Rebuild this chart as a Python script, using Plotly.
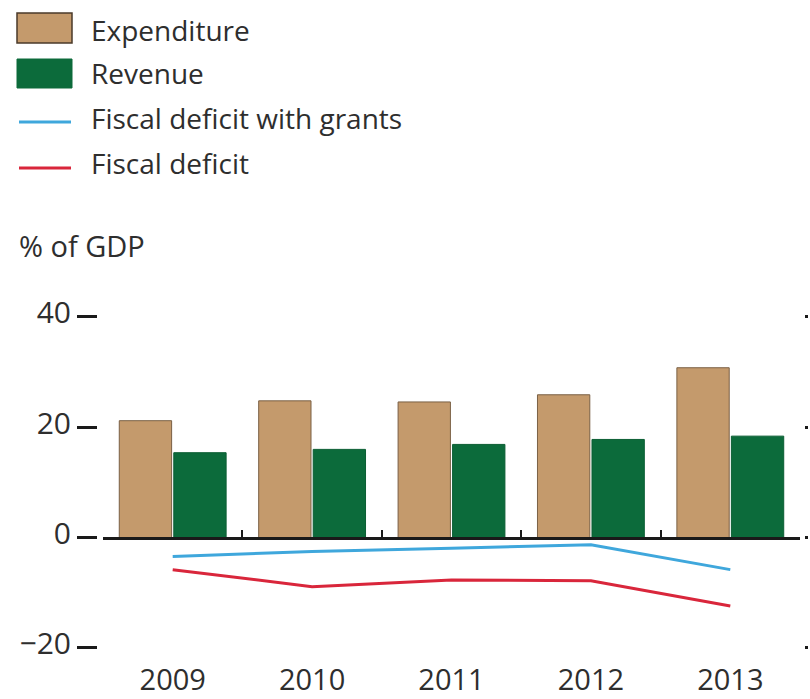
import plotly.graph_objects as go

years = ["2009", "2010", "2011", "2012", "2013"]
expenditure = [21.2, 24.8, 24.6, 25.9, 30.8]
revenue = [15.4, 16.0, 16.9, 17.8, 18.4]
deficit_grants = [-3.4, -2.5, -1.9, -1.3, -5.8]
deficit = [-5.8, -8.9, -7.7, -7.8, -12.4]
y_ticks = [-20, 0, 20, 40]
legend_labels = ["Expenditure", "Revenue", "Fiscal deficit with grants", "Fiscal deficit"]

W, H = 810, 699
ML, MR, MT, MB = 97, 6, 300, 39
PW = W - ML - MR
PH = H - MT - MB
YR = [-22.18, 43.08]

def px_x(p):
    return (p - ML) / PW

def px_y(p):
    return (H - MB - p) / PH

TAN = "#c49a6c"
GREEN = "#0c6b3b"
BLUE = "#3fa7dc"
RED = "#d9263b"
TXT = "#2e2e2e"
FONT = "Open Sans"

fig = go.Figure()
fig.add_trace(go.Bar(x=years, y=expenditure, name=legend_labels[0],
                     marker=dict(color=TAN, line=dict(color="#7a6045", width=1))))
fig.add_trace(go.Bar(x=years, y=revenue, name=legend_labels[1],
                     marker=dict(color=GREEN, line=dict(color="#0b5e33", width=1))))
fig.add_trace(go.Scatter(x=years, y=deficit_grants, name=legend_labels[2], mode="lines",
                         line=dict(color=BLUE, width=3), xaxis="x2", yaxis="y"))
fig.add_trace(go.Scatter(x=years, y=deficit, name=legend_labels[3], mode="lines",
                         line=dict(color=RED, width=3), xaxis="x2", yaxis="y2"))

dom = [px_x(103), px_x(800)]
y0pos = px_y(538)

fig.update_layout(
    width=W, height=H,
    margin=dict(l=ML, r=MR, t=MT, b=MB),
    paper_bgcolor="white", plot_bgcolor="white",
    showlegend=False,
    barmode="group", bargap=0.218, bargroupgap=0.04,
    font=dict(family=FONT, color=TXT, size=28),
    xaxis=dict(domain=dom, range=[-0.5, 4.5], type="category", categoryarray=years,
               showline=False, ticks="", showgrid=False, zeroline=False, automargin=False,
               tickfont=dict(size=29, color=TXT), ticklabelstandoff=0),
    xaxis2=dict(domain=dom, range=[-0.5, 4.5], type="category", categoryarray=years,
                overlaying="x", anchor="free", position=y0pos, automargin=False,
                showline=True, linecolor="#1a1a1a", linewidth=3,
                ticks="inside", tickson="boundaries", ticklen=7, tickwidth=2, tickcolor="#1a1a1a",
                showticklabels=False, showgrid=False, zeroline=False),
    yaxis=dict(range=YR, anchor="free", position=0, tickvals=y_ticks, automargin=False,
               ticks="outside", ticklen=20, tickwidth=3, tickcolor="#1a1a1a",
               showline=False, showgrid=False, zeroline=False,
               tickfont=dict(size=30, color=TXT), ticklabelshift=-4),
    yaxis2=dict(range=YR, overlaying="y", side="right", anchor="free", position=1.0,
                tickvals=y_ticks, ticks="outside", ticklen=3, tickwidth=3, tickcolor="#1a1a1a",
                automargin=False,
                showticklabels=False, showline=False, showgrid=False, zeroline=False),
)

# Legend drawn manually (large swatches)
shapes = [
    dict(type="rect", xref="paper", yref="paper", x0=px_x(17), x1=px_x(72), y0=px_y(43), y1=px_y(13),
         fillcolor=TAN, line=dict(color="#4a3a2a", width=1.5)),
    dict(type="rect", xref="paper", yref="paper", x0=px_x(17), x1=px_x(72), y0=px_y(88), y1=px_y(59),
         fillcolor=GREEN, line=dict(color=GREEN, width=1)),
    dict(type="line", xref="paper", yref="paper", x0=px_x(19), x1=px_x(71), y0=px_y(122), y1=px_y(122),
         line=dict(color=BLUE, width=3)),
    dict(type="line", xref="paper", yref="paper", x0=px_x(19), x1=px_x(71), y0=px_y(168), y1=px_y(168),
         line=dict(color=RED, width=3)),
]
fig.update_layout(shapes=shapes)

ann = []
for lbl, cy in zip(legend_labels, [30, 73, 118, 163]):
    ann.append(dict(text=lbl, xref="paper", yref="paper", x=px_x(89), y=px_y(cy),
                    xanchor="left", yanchor="middle", showarrow=False,
                    font=dict(size=28, color=TXT, family=FONT)))
ann.append(dict(text="% of GDP", xref="paper", yref="paper", x=px_x(17), y=px_y(245),
                xanchor="left", yanchor="middle", showarrow=False,
                font=dict(size=29, color=TXT, family=FONT)))
fig.update_layout(annotations=ann)

fig.write_html("out.html", config={"displayModeBar": False},
               post_script="document.body.style.margin='0';")
